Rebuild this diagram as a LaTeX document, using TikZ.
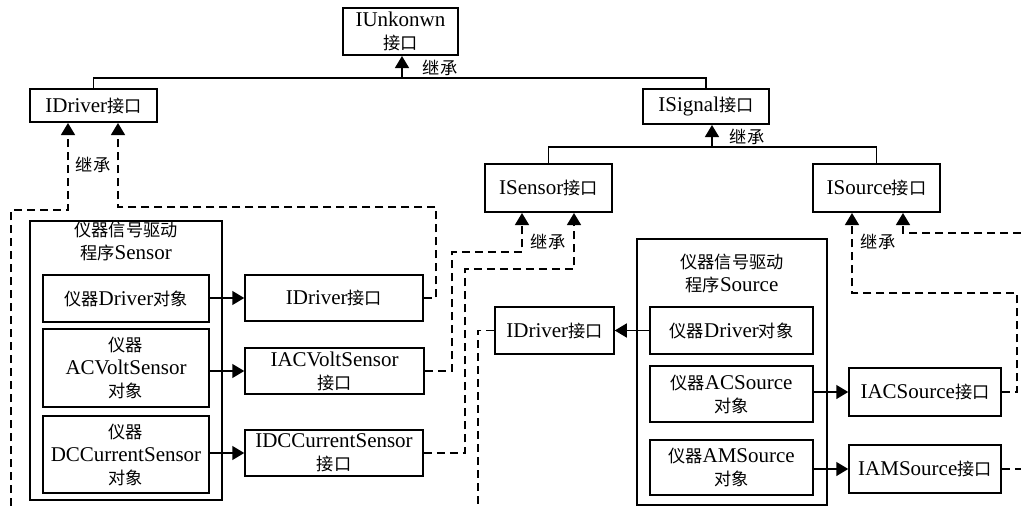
\documentclass[tikz,border=0pt]{standalone}
\usepackage{fontspec}
\setmainfont{Liberation Serif}
\newfontfamily\cjk{Noto Sans CJK SC}[Scale=0.82]
\newcommand{\cn}[1]{{\cjk #1}}
\usetikzlibrary{arrows.meta}
\tikzset{
  ifbox/.style={draw, line width=2pt, align=center, inner sep=0pt},
  objbox/.style={draw, line width=2pt, align=center, inner sep=0pt},
  grpbox/.style={draw, line width=1.5pt, inner sep=0pt},
  grptitle/.style={align=center, inner sep=2pt},
  tree/.style={line width=1.5pt},
  solidarrow/.style={line width=1.5pt, -{Triangle[length=12pt,width=14pt]}},
  inherit/.style={line width=1.5pt, dash pattern=on 8pt off 5pt, -{Triangle[length=12pt,width=14pt]}},
  dashline/.style={line width=1.5pt, dash pattern=on 8pt off 5pt},
  lbl/.style={inner sep=1pt, font=\fontsize{21}{23}\selectfont\cjk}
}

\begin{document}
\begin{tikzpicture}[x=1pt, y=-1pt, font=\fontsize{21}{23}\selectfont]
  \useasboundingbox (0,0) rectangle (1021,506);

  \node[ifbox, minimum width=115, minimum height=47] (unk) at (400.5,31.5) {IUnkonwn\\\cn{接口}};
  \node[ifbox, minimum width=127, minimum height=33] (drvA) at (93.5,105.5) {IDriver\cn{接口}};
  \node[ifbox, minimum width=126, minimum height=35] (sig) at (706,106.5) {ISignal\cn{接口}};
  \node[ifbox, minimum width=127, minimum height=48] (sen) at (548.5,188) {ISensor\cn{接口}};
  \node[ifbox, minimum width=127, minimum height=48] (src) at (876.5,188) {ISource\cn{接口}};

  \node[grpbox, minimum width=192, minimum height=279] (grpS) at (126,360.5) {};
  \node[grptitle, anchor=north] (tS) at (grpS.north) {\cn{仪器信号驱动}\\\cn{程序}Sensor};
  \node[objbox, minimum width=166, minimum height=47] (sDrvObj) at (126,298.5) {\cn{仪器}Driver\cn{对象}};
  \node[objbox, minimum width=166, minimum height=78] (sACObj) at (126,368) {\cn{仪器}\\ACVoltSensor\\\cn{对象}};
  \node[objbox, minimum width=166, minimum height=77] (sDCObj) at (126,454.5) {\cn{仪器}\\DCCurrentSensor\\\cn{对象}};
  \node[ifbox, line width=1.5pt, minimum width=178, minimum height=46] (sDrvIf) at (334,298) {IDriver\cn{接口}};
  \node[ifbox, line width=1.5pt, minimum width=179, minimum height=46] (sACIf) at (334.5,371) {IACVoltSensor\\\cn{接口}};
  \node[ifbox, line width=1.5pt, minimum width=178, minimum height=46] (sDCIf) at (334,453) {IDCCurrentSensor\\\cn{接口}};

  \node[grpbox, minimum width=190, minimum height=266] (grpO) at (732,372) {};
  \node[grptitle, anchor=north] (tO) at ([yshift=-14pt]grpO.north) {\cn{仪器信号驱动}\\\cn{程序}Source};
  \node[objbox, minimum width=163, minimum height=47] (oDrvObj) at (731.5,330.5) {\cn{仪器}Driver\cn{对象}};
  \node[objbox, minimum width=163, minimum height=56] (oACObj) at (731.5,394) {\cn{仪器}ACSource\\\cn{对象}};
  \node[objbox, minimum width=163, minimum height=55] (oAMObj) at (731.5,467.5) {\cn{仪器}AMSource\\\cn{对象}};
  \node[ifbox, line width=1.5pt, minimum width=119, minimum height=47] (oDrvIf) at (554.5,330.5) {IDriver\cn{接口}};
  \node[ifbox, line width=1.5pt, minimum width=152, minimum height=48] (oACIf) at (925,392) {IACSource\cn{接口}};
  \node[ifbox, line width=1.5pt, minimum width=152, minimum height=48] (oAMIf) at (925,469) {IAMSource\cn{接口}};

  \coordinate (bus1) at (402,78);
  \coordinate (bus2) at (712,147);
  \draw[tree] (drvA.north) |- (bus1) -| (sig.north);
  \draw[solidarrow] (bus1) -- (bus1 |- unk.south);
  \draw[tree] (sen.north) |- (bus2) -| (src.north);
  \draw[solidarrow] (bus2) -- (bus2 |- sig.south);
  \node[lbl] (inh1) at (440,68) {继承};
  \node[lbl] (inh2) at (747,137) {继承};

  \draw[solidarrow] (sDrvObj.east |- sDrvIf.west) -- (sDrvIf.west);
  \draw[solidarrow] (sACObj.east |- sACIf.west) -- (sACIf.west);
  \draw[solidarrow] (sDCObj.east |- sDCIf.west) -- (sDCIf.west);
  \draw[solidarrow] (oDrvObj.west) -- (oDrvIf.east);
  \draw[solidarrow] (oACObj.east |- oACIf.west) -- (oACIf.west);
  \draw[solidarrow] (oAMObj.east |- oAMIf.west) -- (oAMIf.west);

  \coordinate (eL) at (11,506);
  \coordinate (c1) at (68,210);
  \coordinate (c2a) at (436,207);
  \coordinate (c2b) at (118,207);
  \draw[inherit] (eL) |- (c1) -- (c1 |- drvA.south);
  \draw[inherit] (sDrvIf.east) -| (c2a) -- (c2b) -- (c2b |- drvA.south);
  \node[lbl] (inh3) at (93,165) {继承};

  \coordinate (c3a) at (452,252);
  \coordinate (c3b) at (522,252);
  \coordinate (c4a) at (465,269);
  \coordinate (c4b) at (574,269);
  \draw[inherit] (sACIf.east) -| (c3a) -- (c3b) -- (c3b |- sen.south);
  \draw[inherit] (sDCIf.east) -| (c4a) -- (c4b) -- (c4b |- sen.south);
  \node[lbl] (inh4) at (548,242) {继承};

  \coordinate (eB) at (478,506);
  \draw[dashline] (oDrvIf.west) -| (eB);

  \coordinate (c6a) at (1017,293);
  \coordinate (c6b) at (852,293);
  \coordinate (eR) at (1021,233);
  \coordinate (c7) at (903,233);
  \coordinate (eR2) at (1021,469);
  \draw[inherit] (oACIf.east) -| (c6a) -- (c6b) -- (c6b |- src.south);
  \draw[inherit] (eR) -- (c7) -- (c7 |- src.south);
  \draw[dashline] (oAMIf.east) -- (eR2);
  \node[lbl] (inh5) at (878,242) {继承};
\end{tikzpicture}
\end{document}
